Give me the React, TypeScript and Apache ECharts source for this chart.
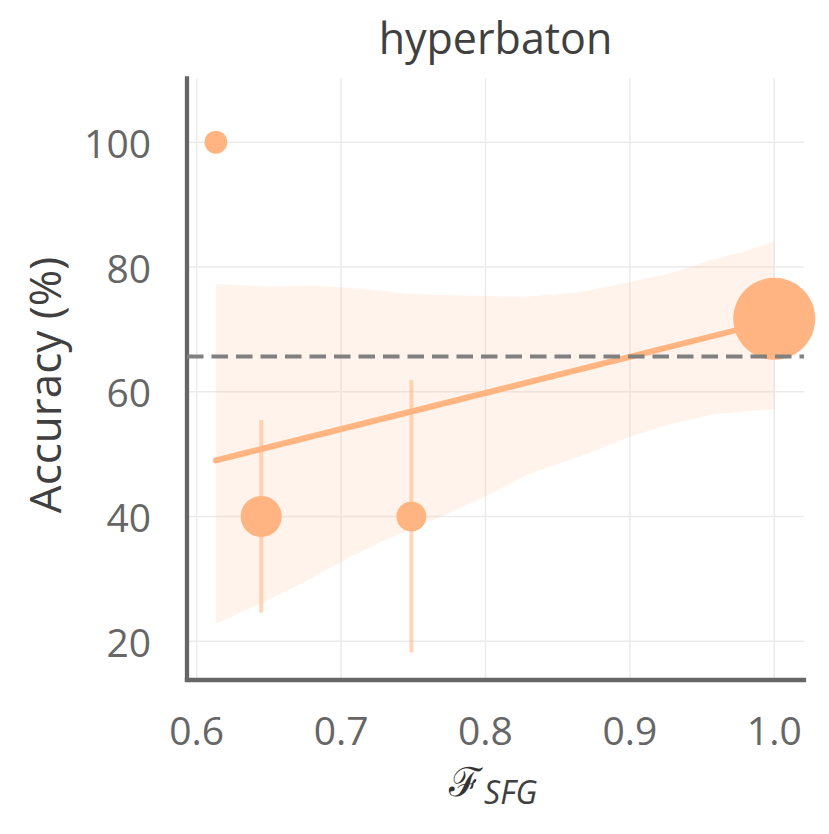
import React, { useEffect, useRef } from "react";
import * as echarts from "echarts";

// ---- data ----
const xTicks = [0.6, 0.7, 0.8, 0.9, 1.0];
const yTicks = [20, 40, 60, 80, 100];

const pointX = [0.6133, 0.6447, 0.7487, 1.0];
const pointY = [100, 40, 40, 71.7];
const pointSize = [23, 41, 30, 82];

const errX = [0.6447, 0.7487];
const errLow = [24.6, 18.2];
const errHigh = [55.5, 61.9];

const fitX = [0.6133, 1.0];
const fitY = [49.0, 71.4];

const bandUpperX = [0.6133, 0.6452, 0.682, 0.716, 0.747, 0.792, 0.826, 0.866, 0.9, 0.928, 0.956, 0.979, 1.0];
const bandUpperY = [77.3, 76.9, 77.0, 76.5, 75.7, 75.4, 75.2, 76.0, 77.6, 79.0, 81.1, 82.5, 84.2];
const bandLowerX = [0.6133, 0.645, 0.673, 0.707, 0.73, 0.758, 0.8, 0.829, 0.871, 0.9, 0.928, 0.956, 0.99, 1.0];
const bandLowerY = [22.8, 26.1, 29.3, 33.6, 36.2, 38.9, 43.2, 46.7, 50.1, 52.8, 54.8, 56.3, 57.1, 57.2];

const baselineY = 65.65;

const X_MIN = 0.5933;
const X_MAX = 1.0206;
const Y_MIN = 13.88;
const Y_MAX = 110.26;

const ORANGE = "#ffb482";

export default function App() {
  const ref = useRef<HTMLDivElement>(null);

  useEffect(() => {
    document.body.style.margin = "0";
    const chart = echarts.init(ref.current!, null, { renderer: "svg" });

    const option: any = {
      animation: false,
      backgroundColor: "#ffffff",
      grid: {
        left: 187,
        right: 25,
        top: 78.3,
        bottom: 154.5,
        containLabel: false,
        outerBoundsMode: "none",
      },
      xAxis: {
        type: "value",
        min: X_MIN,
        max: X_MAX,
        axisLine: { show: true, onZero: false, lineStyle: { color: "#666666", width: 4.3, cap: "square" } },
        axisTick: { show: false, customValues: xTicks },
        splitLine: { show: false },
        axisLabel: {
          customValues: xTicks,
          formatter: (v: number) => v.toFixed(1),
          fontSize: 39,
          fontFamily: "Open Sans",
          color: "#666666",
          margin: 30,
        },
      },
      yAxis: {
        type: "value",
        min: Y_MIN,
        max: Y_MAX,
        axisLine: { show: true, onZero: false, lineStyle: { color: "#666666", width: 4.3, cap: "square" } },
        axisTick: { show: false, customValues: yTicks },
        splitLine: { show: false },
        axisLabel: {
          customValues: yTicks,
          formatter: (v: number) => String(Math.round(v)),
          fontSize: 39,
          fontFamily: "Open Sans",
          color: "#666666",
          margin: 36,
        },
      },
      graphic: [
        {
          type: "text",
          x: 495.5,
          y: 37,
          style: {
            text: "hyperbaton",
            fontSize: 43,
            fontFamily: "Open Sans",
            fill: "#404040",
            align: "center",
            verticalAlign: "middle",
          },
        },
        {
          type: "text",
          x: 44,
          y: 385,
          rotation: Math.PI / 2,
          style: {
            text: "Accuracy (%)",
            fontSize: 44,
            fontFamily: "Open Sans",
            fill: "#404040",
            align: "center",
            verticalAlign: "middle",
          },
        },
        {
          type: "text",
          x: 449,
          y: 782,
          style: {
            text: "ℱ",
            fontSize: 40,
            fontFamily: "DejaVu Serif",
            fill: "#333333",
            align: "left",
            verticalAlign: "middle",
          },
        },
        {
          type: "text",
          x: 484,
          y: 791,
          style: {
            text: "SFG",
            fontSize: 32,
            fontFamily: "Open Sans",
            fontStyle: "italic",
            fill: "#404040",
            align: "left",
            verticalAlign: "middle",
          },
        },
      ],
      series: [
        // vertical grid lines
        {
          type: "custom",
          coordinateSystem: "cartesian2d",
          silent: true,
          z: 0,
          data: xTicks.map((x) => [x, Y_MIN]),
          renderItem: (params: any, api: any) => {
            const a = api.coord([api.value(0), Y_MIN]);
            const b = api.coord([api.value(0), Y_MAX]);
            return {
              type: "line",
              shape: { x1: a[0], y1: a[1], x2: b[0], y2: b[1] },
              style: { stroke: "#ebebeb", lineWidth: 1.5 },
            };
          },
        },
        // horizontal grid lines
        {
          type: "custom",
          coordinateSystem: "cartesian2d",
          silent: true,
          z: 0,
          data: yTicks.map((y) => [X_MIN, y]),
          renderItem: (params: any, api: any) => {
            const a = api.coord([X_MIN, api.value(1)]);
            const b = api.coord([X_MAX, api.value(1)]);
            return {
              type: "line",
              shape: { x1: a[0], y1: a[1], x2: b[0], y2: b[1] },
              style: { stroke: "#ebebeb", lineWidth: 1.5 },
            };
          },
        },
        // confidence band
        {
          type: "custom",
          coordinateSystem: "cartesian2d",
          silent: true,
          z: 1,
          data: [[0.8, 50]],
          renderItem: (params: any, api: any) => {
            const pts: number[][] = [];
            for (let i = 0; i < bandUpperX.length; i++) pts.push(api.coord([bandUpperX[i], bandUpperY[i]]));
            for (let i = bandLowerX.length - 1; i >= 0; i--) pts.push(api.coord([bandLowerX[i], bandLowerY[i]]));
            return {
              type: "polygon",
              shape: { points: pts },
              style: { fill: "rgba(255,180,130,0.16)" },
            };
          },
        },
        // error bars
        {
          type: "custom",
          coordinateSystem: "cartesian2d",
          silent: true,
          z: 2,
          encode: { x: 0, y: [1, 2] },
          data: errX.map((x, i) => [x, errLow[i], errHigh[i]]),
          renderItem: (params: any, api: any) => {
            const a = api.coord([api.value(0), api.value(1)]);
            const b = api.coord([api.value(0), api.value(2)]);
            return {
              type: "line",
              shape: { x1: a[0], y1: a[1], x2: b[0], y2: b[1] },
              style: { stroke: "rgba(255,180,130,0.55)", lineWidth: 4 },
            };
          },
        },
        // regression line
        {
          type: "line",
          z: 3,
          silent: true,
          symbol: "none",
          data: fitX.map((x, i) => [x, fitY[i]]),
          lineStyle: { color: ORANGE, width: 6, cap: "round" },
        },
        // points
        {
          type: "scatter",
          z: 4,
          silent: true,
          data: pointX.map((x, i) => [x, pointY[i], pointSize[i]]),
          symbolSize: (v: number[]) => v[2],
          itemStyle: { color: ORANGE, opacity: 1 },
        },
        // baseline dashed
        {
          type: "line",
          z: 5,
          silent: true,
          symbol: "none",
          data: [
            [X_MIN, baselineY],
            [X_MAX, baselineY],
          ],
          lineStyle: { color: "#808080", width: 4, type: [16.5, 8] },
        },
      ],
    };

    chart.setOption(option);
    return () => chart.dispose();
  }, []);

  return <div ref={ref} style={{ width: 829, height: 834 }} />;
}
